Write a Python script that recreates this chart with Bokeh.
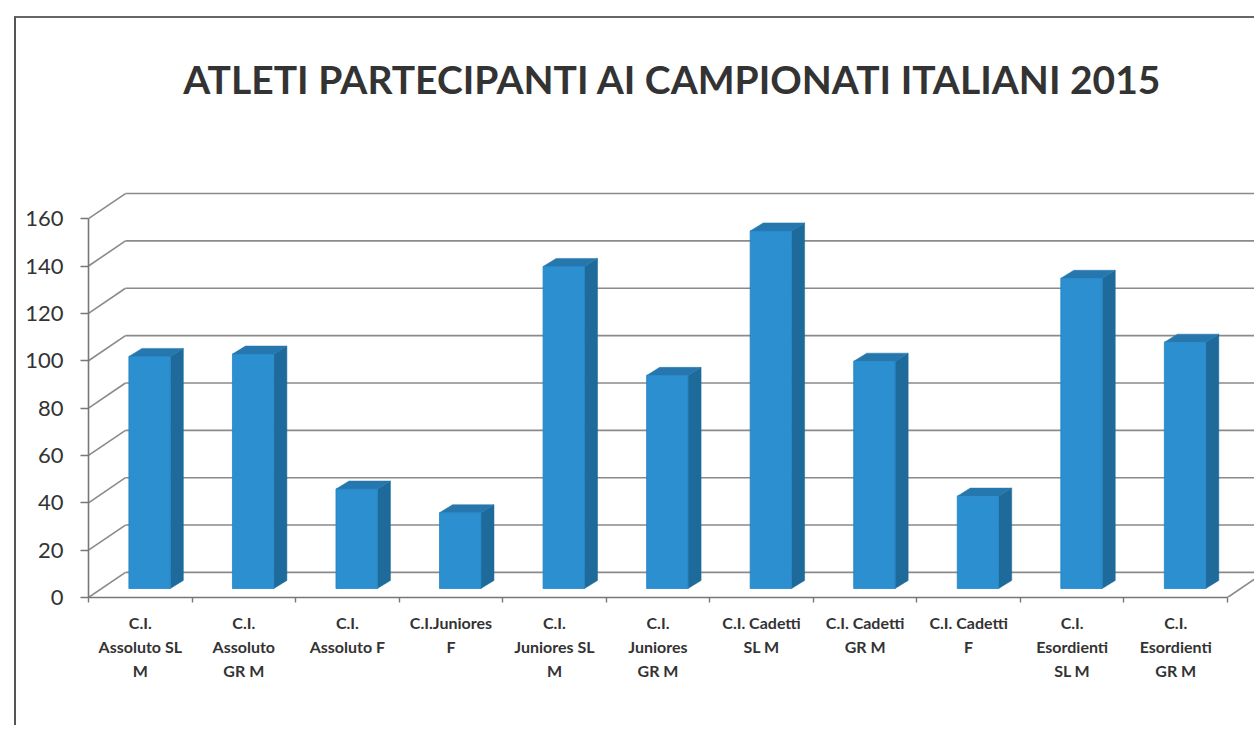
from bokeh.plotting import figure
from bokeh.models import Range1d, FixedTicker, Title
from bokeh.embed import file_html
from bokeh.resources import INLINE

# ---------------- data ----------------
categories = [
    "C.I.\nAssoluto SL\nM",
    "C.I.\nAssoluto\nGR M",
    "C.I.\nAssoluto F",
    "C.I.Juniores\nF",
    "C.I.\nJuniores SL\nM",
    "C.I.\nJuniores\nGR M",
    "C.I. Cadetti\nSL M",
    "C.I. Cadetti\nGR M",
    "C.I. Cadetti\nF",
    "C.I.\nEsordienti\nSL M",
    "C.I.\nEsordienti\nGR M",
]
athletes = [98, 99, 42, 32, 136, 90, 151, 96, 39, 131, 104]
y_ticks = [0, 20, 40, 60, 80, 100, 120, 140, 160]
title_text = "ATLETI PARTECIPANTI AI CAMPIONATI ITALIANI 2015"

# ------------- 3D geometry (data units) -------------
N = len(categories)
DX, DY = 0.357, 10.6      # back wall offset
BX, BY = 0.126, 3.4       # bar depth
FL, FW = 0.39, 0.40       # front face left offset and width inside category
BASE = 3.8                # bar baseline raised by depth position

FRONT = "#2b8fd0"
SIDE = "#1d6a9b"
TOP = "#2677ad"
GRID = "#8a8a8a"

p = figure(
    width=1240, height=709,
    x_range=Range1d(0, 11.28), y_range=Range1d(0, 174),
    output_backend="svg", toolbar_location=None,
    min_border_left=72, min_border_right=0,
    min_border_top=167, min_border_bottom=130,
    title=title_text,
)
p.styles = {"border-left": "2px solid #555", "border-top": "2px solid #666",
            "margin-left": "14px", "margin-top": "16px"}
p.outline_line_color = None
p.xgrid.visible = False
p.ygrid.visible = False
p.background_fill_color = "white"
p.border_fill_color = "white"

p.title.align = "center"
p.title.text_font = "Lato"
p.title.text_font_size = "39px"
p.title.text_font_style = "bold"
p.title.text_color = "#333333"
p.title.standoff = 10

# spacer between title and plot area
p.add_layout(Title(text=" ", text_font_size="10px", standoff=66), "above")

# back wall grid lines + floor diagonals
yt0 = list(y_ticks)
yt1 = [v + DY for v in y_ticks]
p.segment(x0=[0] * len(yt0), y0=yt0, x1=[DX] * len(yt0), y1=yt1,
          line_color=GRID, line_width=1.6)
p.segment(x0=[DX] * len(yt1), y0=yt1, x1=[N + DX] * len(yt1), y1=yt1,
          line_color=GRID, line_width=1.6)
p.segment(x0=[N], y0=[0], x1=[N + DX], y1=[DY], line_color=GRID, line_width=1.6)

# bars
lefts = [i + FL for i in range(N)]
rights = [i + FL + FW for i in range(N)]
tops = [v + BASE for v in athletes]

side_xs = [[r, r, r + BX, r + BX] for r in rights]
side_ys = [[BASE, t, t + BY, BASE + BY] for t in tops]
top_xs = [[l, r, r + BX, l + BX] for l, r in zip(lefts, rights)]
top_ys = [[t, t, t + BY, t + BY] for t in tops]

p.patches(side_xs, side_ys, fill_color=SIDE, line_color=SIDE, line_width=0.5)
p.patches(top_xs, top_ys, fill_color=TOP, line_color=TOP, line_width=0.5)
p.quad(left=lefts, right=rights, bottom=BASE, top=tops,
       fill_color=FRONT, line_color="#2583c2", line_width=0.8)

# axes
p.xaxis.ticker = FixedTicker(ticks=[i + 0.5 for i in range(N)],
                             minor_ticks=list(range(N + 1)))
p.xaxis.major_label_overrides = {i + 0.5: c for i, c in enumerate(categories)}
p.xaxis.bounds = (0, N)
p.xaxis.major_tick_out = 0
p.xaxis.major_tick_in = 0
p.xaxis.minor_tick_out = 5
p.xaxis.minor_tick_in = 0
p.xaxis.major_label_standoff = 10
p.xaxis.major_label_text_font = "Lato"
p.xaxis.major_label_text_font_size = "16px"
p.xaxis.major_label_text_font_style = "bold"
p.xaxis.major_label_text_color = "#333333"
p.xaxis.major_label_text_line_height = 1.28

p.yaxis.ticker = FixedTicker(ticks=y_ticks, minor_ticks=[])
p.yaxis.bounds = (0, 160)
p.yaxis.major_tick_out = 8
p.yaxis.major_tick_in = 0
p.yaxis.minor_tick_out = 0
p.yaxis.minor_tick_in = 0
p.yaxis.major_label_standoff = 17
p.yaxis.major_label_text_font = "Lato"
p.yaxis.major_label_text_font_size = "22px"
p.yaxis.major_label_text_color = "#333333"

for ax in (p.xaxis, p.yaxis):
    ax.axis_line_color = "#777777"
    ax.axis_line_width = 1.6
    ax.major_tick_line_color = "#777777"
    ax.minor_tick_line_color = "#777777"
    ax.major_tick_line_width = 1.4
    ax.minor_tick_line_width = 1.4

open("out.html", "w").write(file_html(p, INLINE))
